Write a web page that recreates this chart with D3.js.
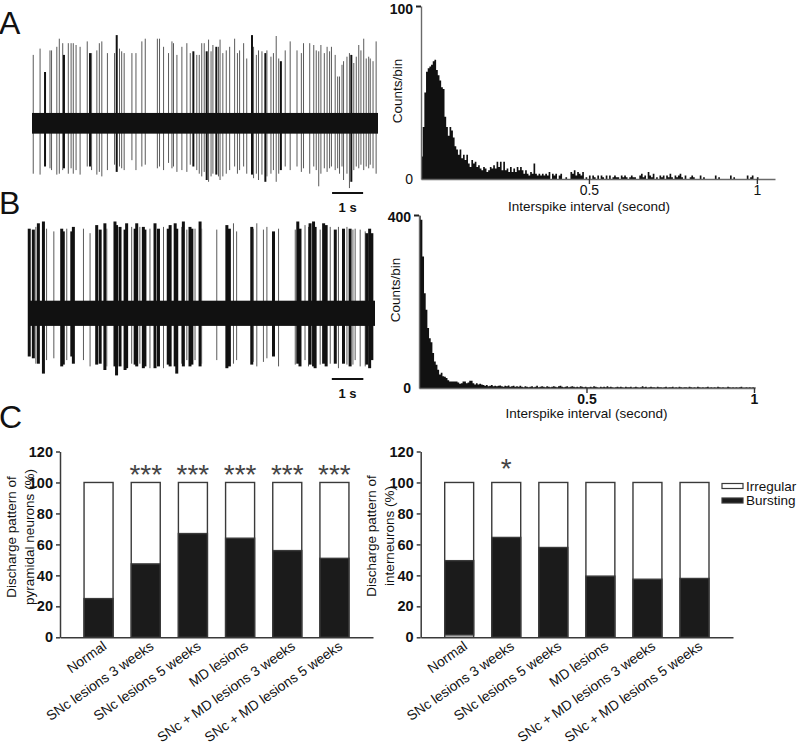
<!DOCTYPE html>
<html>
<head>
<meta charset="utf-8">
<script src="https://cdn.jsdelivr.net/npm/d3@7"></script>
<style>
  body { margin: 0; background: #fff; }
  svg { display: block; font-family: Arial, "Liberation Sans", sans-serif; }
</style>
</head>
<body>
<svg id="fig" width="799" height="744"></svg>
<script>
// ---- panel A: raw trace (spike time s, up / down amplitude, spikes per event)
const spikeTimeA = [0.04,0.26,0.42,0.58,0.63,0.80,0.88,0.99,1.03,1.17,1.26,1.33,1.42,1.55,1.78,1.87,1.92,2.09,2.17,2.25,
  2.43,2.66,2.73,2.82,2.89,2.97,3.22,3.35,3.54,3.65,4.04,4.11,4.24,4.40,4.51,4.56,4.67,4.83,4.99,5.10,
  5.20,5.31,5.39,5.47,5.55,5.63,5.69,5.77,5.83,5.94,6.01,6.06,6.15,6.26,6.37,6.53,6.62,6.69,6.82,6.92,
  7.09,7.14,7.23,7.30,7.41,7.52,7.57,7.70,7.78,7.87,7.95,8.02,8.16,8.32,8.54,8.68,8.75,8.95,9.08,9.16,
  9.24,9.31,9.42,9.51,9.59,9.65,9.77,9.85,9.91,9.99,10.04,10.15,10.23,10.29,10.37,10.45,10.53,10.60,10.69,10.77,
  10.85,10.90,10.99,11.09];
const spikeUpA = [0.76,0.83,0.57,0.81,0.81,0.85,0.94,0.89,0.76,0.89,0.89,0.89,0.87,0.85,0.91,0.78,0.78,0.81,0.89,0.91,
  0.78,0.78,0.98,0.83,0.80,0.78,0.78,0.78,0.91,0.94,0.94,0.94,0.85,0.78,0.91,0.89,0.76,0.85,0.89,0.78,
  0.80,0.76,0.76,0.89,0.89,0.80,0.93,0.80,0.87,0.85,0.85,0.93,0.78,0.81,0.85,0.94,0.78,0.81,0.89,0.72,
  0.98,0.85,0.76,0.81,0.80,0.78,0.81,0.74,0.78,0.97,0.72,0.69,0.81,0.91,0.81,0.78,0.89,0.89,0.87,0.81,
  0.80,0.87,0.78,0.85,0.80,0.85,0.76,0.52,0.52,0.65,0.69,0.74,0.78,0.76,0.67,0.74,0.87,0.81,0.94,0.72,
  0.74,0.72,0.69,0.91];
const spikeDownA = [-0.56,-0.57,-0.48,-0.50,-0.52,-0.57,-0.56,-0.52,-0.50,-0.56,-0.50,-0.56,-0.52,-0.57,-0.48,-0.48,-0.52,-0.57,-0.54,-0.59,
  -0.52,-0.46,-0.54,-0.48,-0.50,-0.52,-0.41,-0.52,-0.48,-0.46,-0.50,-0.48,-0.52,-0.44,-0.50,-0.48,-0.54,-0.52,-0.54,-0.46,
  -0.48,-0.52,-0.56,-0.59,-0.54,-0.63,-0.65,-0.59,-0.56,-0.57,-0.59,-0.63,-0.59,-0.56,-0.52,-0.48,-0.56,-0.52,-0.48,-0.56,
  -0.57,-0.61,-0.56,-0.63,-0.57,-0.65,-0.59,-0.56,-0.52,-0.65,-0.56,-0.52,-0.48,-0.52,-0.48,-0.54,-0.50,-0.56,-0.48,-0.52,
  -0.70,-0.56,-0.50,-0.54,-0.50,-0.48,-0.52,-0.50,-0.56,-0.48,-0.63,-0.56,-0.72,-0.65,-0.52,-0.48,-0.50,-0.46,-0.52,-0.48,
  -0.50,-0.46,-0.50,-0.56];
const spikeCountA = [1,1,2,1,1,1,1,1,2,1,1,1,1,1,1,2,1,1,1,1,
  1,1,2,1,1,1,1,1,1,1,1,1,1,1,1,1,1,1,1,1,
  2,1,1,1,1,2,1,1,1,2,1,1,1,1,1,1,1,1,1,1,
  2,1,1,1,1,2,1,1,1,1,1,2,1,1,1,1,1,1,1,1,
  1,1,1,1,1,1,1,1,1,1,1,1,1,2,1,1,1,1,1,1,
  1,1,1,1];

// ---- panel B: raw trace
const spikeTimeB = [0.03,0.16,0.24,0.32,0.48,0.58,0.81,1.06,1.11,1.22,1.38,1.43,1.75,1.96,2.17,2.28,2.43,2.49,2.75,2.80,
  2.91,3.07,3.12,3.28,3.39,3.44,3.54,3.65,3.70,3.86,4.02,4.13,4.29,4.44,4.50,4.66,4.71,4.87,4.92,5.03,
  5.13,5.19,5.29,5.45,5.50,5.98,6.30,6.38,6.51,6.61,7.09,7.14,7.25,7.46,7.57,7.78,7.94,8.47,8.55,8.62,
  8.78,8.89,8.94,9.05,9.10,9.26,9.37,9.45,9.58,9.74,9.84,10.00,10.11,10.21,10.30,10.37,10.53,10.69,10.74,10.83,
  10.90];
const spikeUpB = [0.94,0.93,0.96,1.00,1.02,0.94,0.91,0.94,0.91,0.94,0.91,0.96,0.94,0.89,0.98,0.93,1.00,0.94,1.02,0.98,
  0.96,0.93,1.00,0.96,0.94,1.00,0.96,0.96,0.93,0.94,1.00,0.94,0.96,0.94,0.98,1.00,0.94,0.96,1.02,0.93,
  0.96,0.94,0.94,1.02,0.94,0.93,0.98,0.94,1.00,0.91,0.96,0.94,1.00,0.93,0.96,0.91,0.94,0.93,1.02,0.94,
  0.98,0.96,1.00,1.02,0.96,0.93,1.00,0.98,0.96,0.93,0.96,0.94,0.96,0.94,0.93,0.94,0.93,0.91,0.89,0.94,
  0.89];
const spikeDownB = [-0.48,-0.50,-0.56,-0.56,-0.67,-0.52,-0.50,-0.59,-0.57,-0.52,-0.48,-0.56,-0.52,-0.59,-0.57,-0.56,-0.63,-0.59,-0.59,-0.69,
  -0.59,-0.63,-0.61,-0.56,-0.57,-0.59,-0.56,-0.61,-0.59,-0.61,-0.61,-0.59,-0.61,-0.57,-0.59,-0.59,-0.67,-0.56,-0.59,-0.52,
  -0.59,-0.57,-0.52,-0.59,-0.56,-0.52,-0.61,-0.59,-0.56,-0.52,-0.57,-0.54,-0.59,-0.54,-0.50,-0.48,-0.59,-0.57,-0.56,-0.59,
  -0.52,-0.59,-0.57,-0.59,-0.61,-0.57,-0.56,-0.59,-0.56,-0.56,-0.61,-0.56,-0.57,-0.59,-0.57,-0.52,-0.59,-0.59,-0.57,-0.61,
  -0.52];
const spikeCountB = [3,3,1,3,3,1,1,3,3,1,3,3,1,1,3,3,3,1,3,3,
  3,3,3,1,3,3,1,3,3,1,3,3,1,3,3,3,3,1,3,1,
  3,3,1,3,1,1,3,3,1,1,3,1,1,1,1,3,1,1,3,3,
  1,1,3,3,3,1,3,3,1,3,1,3,1,3,1,1,1,1,3,3,
  3];

// ---- interspike interval histograms (counts per 0.005 s bin)
const binWidth = 0.005;
const isiCountsA = [13,30,50,62,64,65,66,68,69,63,60,57,53,52,36,30,25,30,28,24,
  19,17,14,17,12,14,11,14,9,7,11,9,10,7,8,6,5,7,6,4,
  5,7,6,8,6,10,7,10,5,10,5,6,4,7,4,6,4,7,5,7,
  5,3,5,3,2,4,3,9,3,2,3,2,3,2,
  3,2,4,0,3,2,3,0,2,3, 0,0,1,0,0, 4,3,5,2,4,3,2,4,0,1,0,
  2,0,2,1,0,2,0,2,1,0,2,0,2,0, 1,2,1,1,0,2,1,2,1,0,1,2,1,1,0,0,
  2,3,1,2,0,4,2,1,3,0,1,0, 2,1,2,0,2,1,3,1,0,2,1,2,3,1,0,2,0,
  0,1,2,1,0,0,0, 2,0,1,0,0,0,0,0,0, 2,0,1,0,0,0,0,0,0,
  2,0,1,0,0,0,0,0,0,0, 2,0,1,2,0,0,1];
const isiCountsB = [398,389,304,219,181,139,115,106,81,61,54,42,31,35,27,26,23,18,15,15,
  15,15,15,13,10,11,15,15,11,13,17,17,11,8,11,8,10,8,7,5,
  7,4,5,7,4,5,4,
  5,6,4,3,5,4,6,3,4,5,3,4,3,5,
  3,2,4,3,2,3,4,2,3,5,2,3,4,3,2,4,3,2,3,4,
  3,2,4,5,3,2,3,4,2,3,4,3,2,3,2,4,3,2,3,2,
  2,3,2,4,3,2,1,3,2,3,2,4,2,3,2,1,2,3,2,3,
  2,1,3,2,2,3,1,2,3,2,1,2,4,2,3,1,2,3,2,2,
  1,3,2,2,1,2,3,1,2,2,3,1,2,1,3,2,1,2,2,1,
  3,2,1,2,1,3,2,1,2,1,2,3,1,2,1,2,1,3,2,1,
  2,1,1,3,2,1,2,1,2,1,2,3,1,1,2,1,2,1,2,1];
const isiTicks = [0.5, 1];

// ---- panel C: discharge pattern (%)
const groups = ["Normal", "SNc lesions 3 weeks", "SNc lesions 5 weeks", "MD lesions",
  "SNc + MD lesions 3 weeks", "SNc + MD lesions 5 weeks"];
const burstPyramidal = [25, 47.4, 67, 64, 56, 51];
const burstInter = [49.5, 64.5, 58, 39.5, 37.5, 38];
const irregularBelowInter = [1.5, 0, 0, 0, 0, 0];
const sigPyramidal = ["", "***", "***", "***", "***", "***"];
const sigInter = ["", "*", "", "", "", ""];
const pctTicks = [0, 20, 40, 60, 80, 100, 120];
const legendItems = ["Irregular", "Bursting"];

const svg = d3.select("#fig");
const ink = "#111";

// panel letters
[["A", 34], ["B", 214], ["C", 428]].forEach(([t, y]) => {
  svg.append("text").attr("x", -1).attr("y", y).attr("font-size", 32).attr("fill", ink).text(t);
});

function drawTrace(cfg) {
  const x = d3.scaleLinear().domain([0, cfg.duration]).range([cfg.x0, cfg.x1]);
  const y = d3.scaleLinear().domain([-1, 1]).range([cfg.cy + 90, cfg.cy - 90]);
  const g = svg.append("g");
  g.selectAll("line.spike")
    .data(d3.range(cfg.times.length))
    .join("line")
    .attr("class", "spike")
    .attr("x1", i => x(cfg.times[i])).attr("x2", i => x(cfg.times[i]))
    .attr("y1", i => y(cfg.up[i])).attr("y2", i => y(cfg.down[i]))
    .attr("stroke", i => cfg.count[i] > 1 ? "#111" : "#5a5a5a")
    .attr("stroke-width", i => cfg.count[i] > 1 ? cfg.burstWidth : 1);
  g.append("rect")
    .attr("x", x(0)).attr("width", x(cfg.duration) - x(0))
    .attr("y", y(cfg.noise)).attr("height", y(-cfg.noise) - y(cfg.noise))
    .attr("fill", "#111");
  // 1 s scale bar
  g.append("line")
    .attr("x1", x(cfg.barStart)).attr("x2", x(cfg.barStart + 1))
    .attr("y1", cfg.barY).attr("y2", cfg.barY)
    .attr("stroke", ink).attr("stroke-width", 2);
  g.append("text")
    .attr("x", x(cfg.barStart + 0.5)).attr("y", cfg.barY + 19)
    .attr("text-anchor", "middle").attr("font-size", 13).attr("font-weight", "bold")
    .attr("fill", ink).text("1 s");
}

drawTrace({ times: spikeTimeA, up: spikeUpA, down: spikeDownA, count: spikeCountA,
  duration: 11.15, x0: 32, x1: 378, cy: 123.3, noise: 0.115, burstWidth: 2,
  barStart: 9.67, barY: 193 });
drawTrace({ times: spikeTimeB, up: spikeUpB, down: spikeDownB, count: spikeCountB,
  duration: 11, x0: 28.3, x1: 375, cy: 313.3, noise: 0.14, burstWidth: 3,
  barStart: 9.63, barY: 379 });

function drawHist(cfg) {
  const x = d3.scaleLinear().domain([0, cfg.xMax]).range([cfg.x0, cfg.x1]);
  const y = d3.scaleLinear().domain([0, cfg.yMax]).range([cfg.yBottom, cfg.yTop]);
  const g = svg.append("g");
  const pts = cfg.counts.map((c, i) => [i * binWidth, c]);
  pts.push([cfg.counts.length * binWidth, 0]);
  g.append("path")
    .datum(pts)
    .attr("fill", "#111")
    .attr("d", d3.area().curve(d3.curveStepAfter)
      .x(d => x(d[0])).y0(y(0)).y1(d => y(d[1])));

  const xAxis = g.append("g")
    .attr("transform", `translate(0,${cfg.yBottom})`)
    .call(d3.axisBottom(x).tickValues(isiTicks).tickSize(5).tickSizeOuter(0)
      .tickFormat(d3.format("")));
  xAxis.select(".domain").attr("stroke", "#6a6a6a").attr("stroke-width", 1.4);
  xAxis.selectAll(".tick line").attr("stroke", "#333").attr("stroke-width", 1.4);
  xAxis.selectAll(".tick text").attr("font-size", 14).attr("fill", ink)
    .attr("font-weight", cfg.boldX ? "bold" : "normal").attr("y", 6);

  const yAxis = g.append("g")
    .attr("transform", `translate(${cfg.x0},0)`)
    .call(d3.axisLeft(y).tickValues([0, cfg.yMax]).tickSize(5).tickSizeOuter(0).tickPadding(3));
  yAxis.select(".domain").attr("stroke", "#6a6a6a").attr("stroke-width", 1.4);
  yAxis.selectAll(".tick line").attr("stroke", d => d === 0 ? "none" : "#222").attr("stroke-width", 2);
  yAxis.selectAll(".tick text").attr("font-size", 14).attr("fill", ink)
    .attr("dy", d => d === 0 ? "0.32em" : cfg.topDy)
    .attr("font-weight", d => (d === 0 && !cfg.boldZero) ? "normal" : "bold");

  g.append("text")
    .attr("transform", `translate(${cfg.x0 - 19},${cfg.labelY}) rotate(-90)`)
    .attr("text-anchor", "middle").attr("font-size", 13.5).attr("fill", ink)
    .text("Counts/bin");
  g.append("text")
    .attr("x", x(0.5)).attr("y", cfg.yBottom + cfg.xLabelDy)
    .attr("text-anchor", "middle").attr("font-size", 13.5).attr("fill", ink)
    .text("Interspike interval (second)");
}

drawHist({ counts: isiCountsA, x0: 421, x1: 775, xMax: 1.054, yTop: 6, yBottom: 179,
  yMax: 100, boldX: false, boldZero: false, labelY: 91, xLabelDy: 32, topDy: "0.5em" });
drawHist({ counts: isiCountsB, x0: 419, x1: 755, xMax: 1.003, yTop: 215, yBottom: 388,
  yMax: 400, boldX: true, boldZero: true, labelY: 290, xLabelDy: 30, topDy: "0.45em" });

function drawBars(cfg) {
  const x = d3.scaleBand().domain(groups).range([cfg.x0, cfg.x1])
    .paddingInner(0.385).paddingOuter(0.51);
  const y = d3.scaleLinear().domain([0, 120]).range([637.3, 451.5]);
  const g = svg.append("g");

  g.selectAll("rect.irr")
    .data(groups).join("rect").attr("class", "irr")
    .attr("x", d => x(d)).attr("width", x.bandwidth())
    .attr("y", y(100)).attr("height", y(0) - y(100))
    .attr("fill", "#fff").attr("stroke", "#3a3a3a").attr("stroke-width", 1.4);
  g.selectAll("rect.burst")
    .data(groups).join("rect").attr("class", "burst")
    .attr("x", d => x(d)).attr("width", x.bandwidth())
    .attr("y", (d, i) => y(cfg.burst[i]))
    .attr("height", (d, i) => y(cfg.base[i]) - y(cfg.burst[i]))
    .attr("fill", "#1b1b1b").attr("stroke", "#3a3a3a").attr("stroke-width", 1.4);

  g.selectAll("text.sig")
    .data(groups).join("text").attr("class", "sig")
    .attr("x", d => x(d) + x.bandwidth() / 2).attr("y", cfg.sigY)
    .attr("text-anchor", "middle").attr("font-size", 28).attr("fill", "#444")
    .text((d, i) => cfg.sig[i]);

  const yAxis = g.append("g").attr("transform", `translate(${cfg.x0},0)`)
    .call(d3.axisLeft(y).tickValues(pctTicks).tickSize(4).tickSizeOuter(0).tickPadding(3));
  yAxis.select(".domain").attr("stroke", "#3a3a3a").attr("stroke-width", 1.5);
  yAxis.selectAll(".tick line").attr("stroke", "#3a3a3a").attr("stroke-width", 1.5);
  yAxis.selectAll(".tick text").attr("font-size", 14.5).attr("font-weight", "bold").attr("fill", ink);

  const xAxis = g.append("g").attr("transform", `translate(0,${y(0)})`)
    .call(d3.axisBottom(x).tickSize(0).tickSizeOuter(0));
  xAxis.select(".domain").attr("stroke", "#3a3a3a").attr("stroke-width", 1.5);
  xAxis.selectAll(".tick text")
    .attr("y", 0).attr("dy", 0)
    .attr("text-anchor", "end")
    .attr("transform", "translate(9,11) rotate(-35)")
    .attr("font-size", 13.8).attr("fill", ink);

  const lab = g.append("text")
    .attr("transform", `translate(${cfg.labelX},${cfg.labelCy}) rotate(-90)`)
    .attr("text-anchor", "middle").attr("font-size", 13.5).attr("fill", ink);
  lab.append("tspan").attr("x", 0).attr("y", 0).text("Discharge pattern of");
  lab.append("tspan").attr("x", 0).attr("y", 18).text(cfg.label2);
}

drawBars({ x0: 60, x1: 373, burst: burstPyramidal, base: [0, 0, 0, 0, 0, 0],
  sig: sigPyramidal, sigY: 484, labelX: 16, labelCy: 537, label2: "pyramidal neurons (%)" });
drawBars({ x0: 420.7, x1: 733, burst: burstInter, base: irregularBelowInter,
  sig: sigInter, sigY: 478, labelX: 376, labelCy: 536, label2: "interneurons (%)" });

// legend
const leg = svg.append("g").attr("transform", "translate(722,486)");
leg.selectAll("rect")
  .data(legendItems).join("rect")
  .attr("x", 0).attr("y", (d, i) => i * 14.5 - 2.5).attr("width", 21).attr("height", 5)
  .attr("fill", (d, i) => i === 0 ? "#fff" : "#1b1b1b").attr("stroke", "#3a3a3a").attr("stroke-width", 1.2);
leg.selectAll("text")
  .data(legendItems).join("text")
  .attr("x", 24).attr("y", (d, i) => i * 14.5 + 4.5)
  .attr("font-size", 13.5).attr("fill", ink).text(d => d);
</script>
</body>
</html>
